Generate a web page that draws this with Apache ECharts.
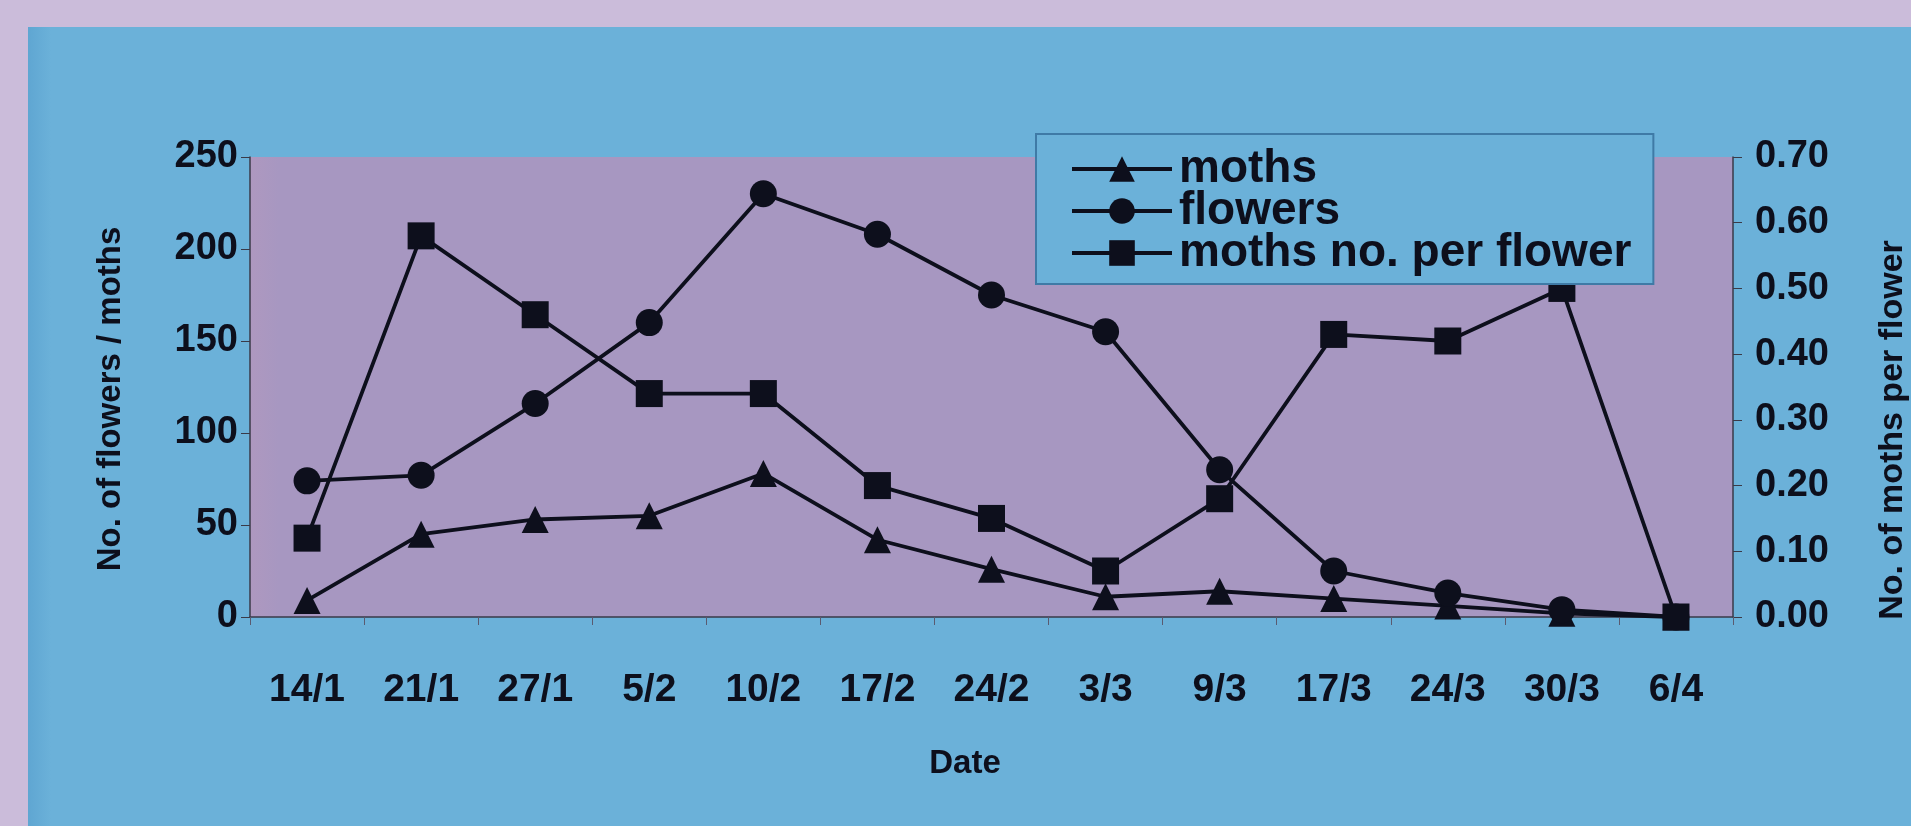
<!DOCTYPE html>
<html>
<head>
<meta charset="utf-8">
<style>
html,body{margin:0;padding:0;background:#CBBCDA;}
#chart{width:1911px;height:826px;}
</style>
<script src="https://cdn.jsdelivr.net/npm/echarts@6/dist/echarts.min.js"></script>
</head>
<body>
<div id="chart"></div>
<script>
const dates = ['14/1','21/1','27/1','5/2','10/2','17/2','24/2','3/3','9/3','17/3','24/3','30/3','6/4'];
const moths = [9, 45, 53, 55, 78, 42, 26, 11, 14, 10, 6, 2, 0];
const flowers = [74, 77, 116, 160, 230, 208, 175, 155, 80, 25, 13, 4, 0];
const mothsPerFlower = [0.12, 0.58, 0.46, 0.34, 0.34, 0.20, 0.15, 0.07, 0.18, 0.43, 0.42, 0.50, 0.00];
const leftTicks = [0, 250, 50];
const rightTicks = [0, 0.7, 0.1];

const chart = echarts.init(document.getElementById('chart'), null, {renderer:'canvas'});
const FONT = 'Liberation Sans, Arial, sans-serif';
const INK = '#0d0f1c';
const lineStyle = {color:INK, width:3.8};
const itemStyle = {color:INK};

chart.setOption({
  backgroundColor:'#CBBCDA',
  animation:false,
  graphic:[
    {type:'rect', z:-10, shape:{x:28,y:27,width:1900,height:820},
     style:{fill:new echarts.graphic.LinearGradient(0,0,1,0,[{offset:0,color:'#5fa6d2'},{offset:0.012,color:'#6BB1D9'},{offset:1,color:'#6BB1D9'}])}},
    {type:'text', z:10, x:111, y:399, rotation:Math.PI/2,
     style:{text:'No. of flowers / moths', fill:INK, font:'bold 33px '+FONT, align:'center', verticalAlign:'middle'}},
    {type:'text', z:10, x:1893, y:430, rotation:Math.PI/2,
     style:{text:'No. of moths per flower', fill:INK, font:'bold 34px '+FONT, align:'center', verticalAlign:'middle'}},
    {type:'text', z:10, x:965, y:764,
     style:{text:'Date', fill:INK, font:'bold 33px '+FONT, align:'center', verticalAlign:'middle'}}
  ],
  grid:{left:250, right:178, top:157, bottom:209, show:true,
    backgroundColor:new echarts.graphic.LinearGradient(0,0,1,0,[{offset:0,color:'#AE98BF'},{offset:0.02,color:'#A797C1'},{offset:1,color:'#A797C1'}]),
    borderWidth:0},
  legend:{
    orient:'vertical', left:1036, top:134,
    padding:[12,22,8,34], itemGap:-4,
    backgroundColor:'#6BB1D9', borderColor:'#3f7aa6', borderWidth:2,
    itemWidth:100, itemHeight:32,
    lineStyle:{width:4},
    textStyle:{fontSize:46, fontWeight:'bold', color:INK, fontFamily:FONT, padding:[0,0,0,2]},
    data:['moths','flowers','moths no. per flower']
  },
  xAxis:{
    type:'category', data:dates, boundaryGap:true,
    axisLine:{show:true, lineStyle:{color:'#3a3a48', width:1.5}},
    axisTick:{show:true, inside:false, length:8, lineStyle:{color:'#5a5a70'}},
    axisLabel:{fontSize:39, fontWeight:'bold', color:INK, fontFamily:FONT, margin:54}
  },
  yAxis:[
    {type:'value', min:leftTicks[0], max:leftTicks[1], interval:leftTicks[2],
     splitLine:{show:false},
     axisLine:{show:true, lineStyle:{color:'#3a3a48', width:1.5}},
     axisTick:{show:true, length:9, lineStyle:{color:'#3a3a48'}},
     axisLabel:{fontSize:38, fontWeight:'bold', color:INK, fontFamily:FONT, margin:12}},
    {type:'value', min:rightTicks[0], max:rightTicks[1], interval:rightTicks[2],
     splitLine:{show:false}, position:'right',
     axisLine:{show:true, lineStyle:{color:'#3a3a48', width:1.5}},
     axisTick:{show:true, length:9, lineStyle:{color:'#3a3a48'}},
     axisLabel:{fontSize:38, fontWeight:'bold', color:INK, fontFamily:FONT, margin:22,
       formatter:v=>v.toFixed(2)}}
  ],
  series:[
    {name:'moths', type:'line', yAxisIndex:0, data:moths, symbol:'triangle', symbolSize:27,
     lineStyle:lineStyle, itemStyle:itemStyle},
    {name:'flowers', type:'line', yAxisIndex:0, data:flowers, symbol:'circle', symbolSize:27,
     lineStyle:lineStyle, itemStyle:itemStyle},
    {name:'moths no. per flower', type:'line', yAxisIndex:1, data:mothsPerFlower, symbol:'rect', symbolSize:27,
     lineStyle:lineStyle, itemStyle:itemStyle}
  ]
});
</script>
</body>
</html>
